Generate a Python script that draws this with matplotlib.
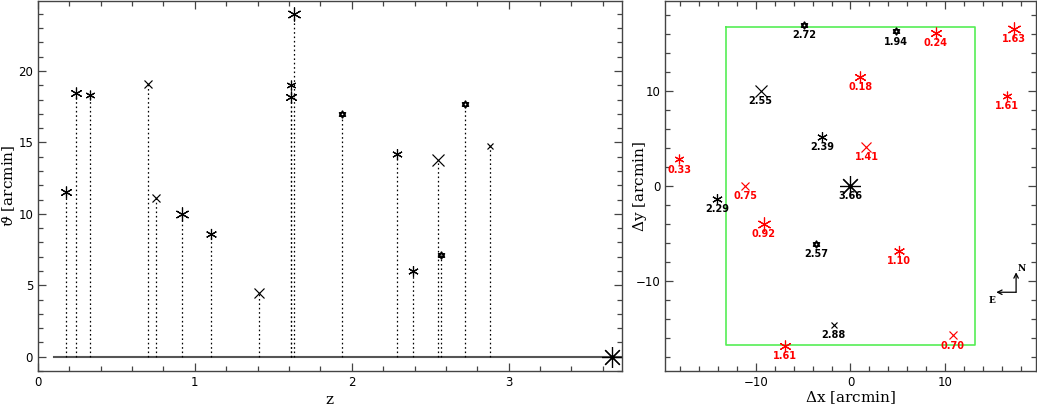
import numpy as np
import matplotlib
matplotlib.use('Agg')
import matplotlib.pyplot as plt
from matplotlib.path import Path
from matplotlib.ticker import MultipleLocator

# redshift, offsets from the cluster centre [arcmin]
z = [0.18, 0.24, 0.33, 0.70, 0.75, 0.92, 1.10, 1.41, 1.61, 1.61, 1.63,
     1.94, 2.29, 2.39, 2.55, 2.57, 2.72, 2.88, 3.66]
dx = [1.05, 9.0, -18.1, 10.8, -11.1, -9.15, 5.17, 1.69, 16.5, -6.94, 17.3,
      4.82, -14.1, -3.0, -9.5, -3.66, -4.93, -1.76, 0.0]
dy = [11.5, 16.1, 2.8, -15.75, 0.0, -4.0, -6.84, 4.1, 9.5, -16.84, 16.6,
      16.3, -1.4, 5.2, 10.0, -6.07, 17.0, -14.66, 0.0]
theta = [np.hypot(a, b) for a, b in zip(dx, dy)]

# symbol kind and size for each object
kind = ['a', 'a', 'a', 'x', 'x', 'a', 'a', 'x', 'a', 'a', 'a',
        'h', 'a', 'a', 'x', 'h', 'h', 'x', 'big']
msize = [8.5, 8.5, 7, 6, 5.5, 10, 8, 7.5, 7, 8.5, 10,
         5, 7.5, 7.5, 9, 5, 5, 4.5, 15]

# field of view box
box_x = [-13.15, 13.15, 13.15, -13.15, -13.15]
box_y = [16.75, 16.75, -16.75, -16.75, 16.75]

star_david = Path([(0, 1), (0.87, -0.5), (-0.87, -0.5), (0, 1),
                   (0, -1), (0.87, 0.5), (-0.87, 0.5), (0, -1)],
                  [Path.MOVETO, Path.LINETO, Path.LINETO, Path.CLOSEPOLY,
                   Path.MOVETO, Path.LINETO, Path.LINETO, Path.CLOSEPOLY])
markers = {'a': (6, 2, 0), 'x': 'x', 'h': star_david, 'big': (8, 2, 0)}

frame_col = '#444444'
plt.rcParams['font.family'] = 'DejaVu Sans'
plt.rcParams['mathtext.fontset'] = 'dejavuserif'


def style_axes(ax, major, minor):
    ax.xaxis.set_major_locator(MultipleLocator(major[0]))
    ax.xaxis.set_minor_locator(MultipleLocator(minor[0]))
    ax.yaxis.set_major_locator(MultipleLocator(major[1]))
    ax.yaxis.set_minor_locator(MultipleLocator(minor[1]))
    ax.tick_params(which='both', direction='in', top=True, right=True,
                   color=frame_col, labelsize=8.5)
    ax.tick_params(which='major', length=5.5, width=0.9)
    ax.tick_params(which='minor', length=3.6, width=0.9)
    for s in ax.spines.values():
        s.set_color(frame_col)
        s.set_linewidth(1.0)


def set_labels(ax, xl, yl, xpos, ypos):
    ax.set_xlabel(xl, family='DejaVu Serif', fontsize=11, va='center')
    ax.set_ylabel(yl, family='DejaVu Serif', fontsize=11, va='center')
    ax.xaxis.set_label_coords(0.5, xpos)
    ax.yaxis.set_label_coords(ypos, 0.5)


def draw_point(ax, x, y, k, ms, col):
    if k == 'h':
        ax.plot(x, y, marker=markers[k], ms=ms, mfc='none', mec=col, mew=1.1, ls='none')
    else:
        ax.plot(x, y, marker=markers[k], ms=ms, mec=col, mew=0.85, ls='none')


f = plt.figure(figsize=(10.37, 4.07), dpi=100)

# left: separation vs redshift
ax1 = f.add_axes([0.0366, 0.0885, 0.5629, 0.909])
ax1.plot([0.1, 3.72], [0, 0], color='#555555', lw=1.5, zorder=1)
for i in range(len(z)):
    ax1.plot([z[i], z[i]], [0, theta[i]], color='k', lw=0.9,
             ls=(0, (1.3, 2.2)), zorder=2)
    draw_point(ax1, z[i], theta[i], kind[i], msize[i], 'k')
ax1.set_xlim(0, 3.72)
ax1.set_ylim(-1, 24.9)
style_axes(ax1, (1, 5), (0.2, 1))
set_labels(ax1, 'z', r'$\vartheta$ [arcmin]', -0.078, -0.051)

# right: positions on the sky
ax2 = f.add_axes([0.6413, 0.0885, 0.3577, 0.909])
ax2.plot(box_x, box_y, color='#55ee55', lw=1.2, zorder=1)
for i in range(len(z)):
    col = 'red' if z[i] < 1.8 else 'k'
    draw_point(ax2, dx[i], dy[i], kind[i], msize[i], col)
    ax2.annotate('%.2f' % z[i], (dx[i], dy[i]), xytext=(0, -7.3),
                 textcoords='offset points', ha='center', va='center',
                 fontsize=7, fontweight='bold', color=col)

# compass
cx, cy = 17.5, -11.2
ax2.annotate('', xy=(cx, -9.1), xytext=(cx, cy),
             arrowprops=dict(arrowstyle='->', lw=0.9, color='k', shrinkA=0, shrinkB=0,
                             mutation_scale=8))
ax2.annotate('', xy=(15.4, cy), xytext=(cx, cy),
             arrowprops=dict(arrowstyle='->', lw=0.9, color='k', shrinkA=0, shrinkB=0,
                             mutation_scale=8))
ax2.text(18.05, -8.7, 'N', family='DejaVu Serif', fontsize=6.5, fontweight='bold',
         ha='center', va='center')
ax2.text(15.0, -12.1, 'E', family='DejaVu Serif', fontsize=6.5, fontweight='bold',
         ha='center', va='center')

ax2.set_xlim(-19.6, 19.6)
ax2.set_ylim(-19.5, 19.5)
style_axes(ax2, (10, 10), (2, 2))
set_labels(ax2, r'$\Delta$x [arcmin]', r'$\Delta$y [arcmin]', -0.073, -0.067)

f.savefig('out.png', dpi=100)
